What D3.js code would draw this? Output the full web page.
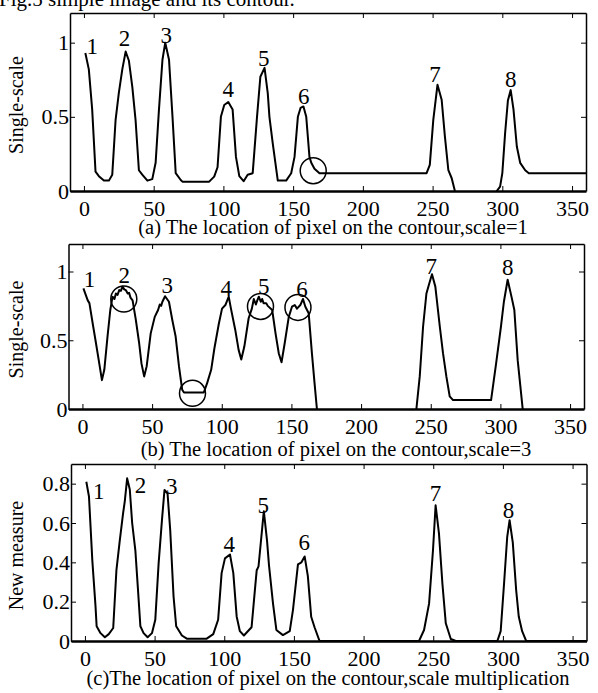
<!DOCTYPE html>
<html>
<head>
<meta charset="utf-8">
<script src="https://cdn.jsdelivr.net/npm/d3@7"></script>
<style>
  body { margin: 0; background: #fff; }
  svg { display: block; font-family: "Liberation Serif", "Times New Roman", serif; }
</style>
</head>
<body>
<div id="chart"></div>
<script>
var w = 598;
var h = 693;

var xTicks = [0, 50, 100, 150, 200, 250, 300, 350];

// (a) scale = 1
var posA = [1, 3.5, 5.9, 8.3, 10.7, 14.3, 17.9, 20.3, 22.7, 25, 27.5, 29.9, 32.2, 34.7, 37, 39.4, 41.8, 45.5, 49, 51.4, 53.8, 56.3, 58.3, 61, 63.5, 65.8, 69.4, 70.6, 89.8, 93.4, 95.8, 98.2, 100.6, 103.5, 106.6, 109, 111.4, 114.5, 117.4, 121, 124.1, 126.5, 129.5, 131.8, 133, 135.4, 139, 145, 148.6, 151, 153.4, 155.3, 157.4, 159.4, 161.7, 163, 165.3, 168.9, 245.7, 248, 250.5, 253.5, 256.5, 258.8, 261.3, 263.7, 266, 270, 292, 296, 298.4, 300, 302, 304, 306, 308, 310.4, 312.8, 316.4, 319, 360];
var valA = [0.93, 0.82, 0.55, 0.13, 0.10, 0.07, 0.07, 0.11, 0.48, 0.66, 0.82, 0.94, 0.88, 0.70, 0.48, 0.14, 0.11, 0.07, 0.08, 0.19, 0.55, 0.885, 1.0, 0.885, 0.50, 0.12, 0.074, 0.063, 0.063, 0.097, 0.16, 0.50, 0.58, 0.60, 0.55, 0.23, 0.10, 0.066, 0.11, 0.12, 0.5, 0.77, 0.83, 0.66, 0.50, 0.32, 0.07, 0.07, 0.12, 0.23, 0.50, 0.56, 0.57, 0.5, 0.23, 0.19, 0.15, 0.12, 0.12, 0.176, 0.48, 0.716, 0.615, 0.37, 0.14, 0.086, 0, -0.2, -0.2, 0, 0.03, 0.12, 0.39, 0.61, 0.68, 0.55, 0.30, 0.19, 0.14, 0.12, 0.12];

// (b) scale = 3
var posB = [0.7, 3.8, 5, 7.4, 9.7, 12.1, 14, 15.7, 18, 20, 21.6, 23, 24, 25.2, 26.4, 27.6, 28.8, 30, 31.1, 32.5, 33.5, 34.5, 36, 38.3, 40.7, 42.4, 44.3, 46.1, 49, 51.9, 54.3, 55.5, 56.5, 57.4, 59.3, 62.1, 64.5, 66.9, 69.3, 71.6, 72.9, 87.1, 89.5, 92.4, 94.7, 97.9, 100.2, 102.6, 105, 106.6, 109.7, 112.1, 114, 116.2, 119.3, 121.6, 123, 124.5, 125.5, 126.6, 128, 129, 130, 131.9, 133, 136.2, 138.6, 140.9, 142.9, 145.2, 148.1, 150.4, 152.4, 154, 156.4, 158.3, 160, 162.4, 164.7, 166.6, 168.3, 171, 237, 239.7, 242.1, 244.5, 246.9, 249.3, 250.9, 253.3, 256.5, 258.8, 261.2, 263.6, 266, 293.3, 296.9, 300.4, 302.5, 305.2, 308.1, 310, 312.4, 316, 319, 360];
var valB = [0.877, 0.79, 0.77, 0.62, 0.48, 0.33, 0.21, 0.285, 0.527, 0.72, 0.817, 0.80, 0.84, 0.83, 0.865, 0.86, 0.89, 0.87, 0.865, 0.84, 0.845, 0.81, 0.79, 0.65, 0.48, 0.33, 0.237, 0.31, 0.55, 0.67, 0.72, 0.76, 0.75, 0.78, 0.82, 0.78, 0.647, 0.527, 0.31, 0.14, 0.12, 0.12, 0.188, 0.285, 0.44, 0.62, 0.73, 0.756, 0.817, 0.73, 0.575, 0.43, 0.36, 0.454, 0.66, 0.73, 0.80, 0.76, 0.79, 0.817, 0.78, 0.80, 0.77, 0.77, 0.75, 0.72, 0.55, 0.406, 0.34, 0.48, 0.67, 0.744, 0.756, 0.73, 0.756, 0.80, 0.744, 0.696, 0.406, 0.188, 0, -0.3, -0.3, 0, 0.237, 0.6, 0.84, 0.925, 0.98, 0.89, 0.6, 0.406, 0.237, 0.092, 0.065, 0.065, 0.33, 0.6, 0.78, 0.94, 0.81, 0.72, 0.355, 0, -0.3, -0.3];

// (c) scale multiplication
var posC = [1, 2.9, 5.3, 7.6, 8.4, 11.2, 14.3, 17.1, 20.3, 22.6, 25, 27.4, 28.6, 30.3, 32.2, 33.9, 36.2, 37.9, 39.8, 42.1, 45, 48.1, 50.5, 52.9, 55.3, 57.1, 59.3, 61.2, 63.6, 65.5, 69.6, 73.1, 87.4, 92.1, 95.6, 98.1, 100.5, 104.1, 106.5, 108.9, 111.2, 114.1, 119.6, 122, 123.3, 124, 124.6, 128.4, 130.7, 132.1, 135, 137.4, 142.1, 147, 149.3, 152.9, 155.4, 157.7, 160, 162.4, 164.8, 168.4, 239.8, 243.4, 247, 249.8, 251.7, 254.1, 256.6, 259, 262.6, 266.2, 296, 298.4, 300.8, 303.1, 304.8, 307.1, 309.5, 311.4, 313.8, 316.7, 360];
var valC = [0.81, 0.735, 0.41, 0.176, 0.075, 0.04, 0.019, 0.035, 0.066, 0.36, 0.51, 0.65, 0.71, 0.827, 0.77, 0.6, 0.46, 0.28, 0.075, 0.04, 0.019, 0.04, 0.108, 0.396, 0.616, 0.768, 0.75, 0.565, 0.227, 0.075, 0.028, 0.012, 0.012, 0.035, 0.108, 0.345, 0.42, 0.44, 0.345, 0.125, 0.05, 0.028, 0.07, 0.26, 0.36, 0.37, 0.38, 0.66, 0.51, 0.386, 0.19, 0.056, 0.03, 0.05, 0.157, 0.39, 0.40, 0.43, 0.33, 0.123, 0.07, 0, 0, 0.056, 0.19, 0.46, 0.69, 0.547, 0.29, 0.09, 0.01, 0, 0, 0.05, 0.29, 0.53, 0.614, 0.5, 0.26, 0.123, 0.05, 0, 0];

// peak numbers (anchor at bottom-centre, data units)
var peakNames = ["1", "2", "3", "4", "5", "6", "7", "8"];
var peakXA = [5.9, 29.1, 59.1, 103.5, 128.9, 157.7, 251.7, 306.1];
var peakYA = [0.926, 0.975, 0.998, 0.633, 0.845, 0.588, 0.738, 0.70];
var peakXB = [5.1, 30, 60.9, 103.3, 130.2, 157.6, 250.4, 305.2];
var peakYB = [0.884, 0.913, 0.845, 0.82, 0.833, 0.817, 0.98, 0.978];
var peakXC = [10, 39.8, 62.4, 103.6, 127.9, 157.5, 251.7, 304.1];
var peakYC = [0.722, 0.755, 0.75, 0.455, 0.653, 0.462, 0.712, 0.623];

// marked regions (circle centres, data units)
var ringXA = [164.4];
var ringYA = [0.137];
var ringXB = [29.7, 79, 127.8, 154.7];
var ringYB = [0.80, 0.114, 0.746, 0.739];

var title = "Fig.5 simple image and its contour.";
var captions = [
  "(a) The location of pixel on the contour,scale=1",
  "(b) The location of pixel on the contour,scale=3",
  "(c)The location of pixel on the contour,scale multiplication"
];
var yTitles = ["Single-scale", "Single-scale", "New measure"];

var panels = [
  { xs: posA, ys: valA, px: peakXA, py: peakYA, rx: ringXA, ry: ringYA,
    left: 70, right: 586, top: 13, bottom: 191, yMax: 1.2, yTicks: [0, 0.5, 1],
    capX: 333, capY: 234 },
  { xs: posB, ys: valB, px: peakXB, py: peakYB, rx: ringXB, ry: ringYB,
    left: 68.5, right: 584, top: 244, bottom: 409, yMax: 1.2, yTicks: [0, 0.5, 1],
    capX: 336, capY: 456 },
  { xs: posC, ys: valC, px: peakXC, py: peakYC, rx: [], ry: [],
    left: 71, right: 586.5, top: 464, bottom: 641, yMax: 0.9, yTicks: [0, 0.2, 0.4, 0.6, 0.8],
    capX: 328, capY: 685 }
];

var svg = d3.select("#chart").append("svg")
  .attr("width", w)
  .attr("height", h);

svg.append("text")
  .attr("x", -1)
  .attr("y", 6)
  .style("font-size", "21px")
  .text(title);

panels.forEach(function (p, k) {
  var x = d3.scaleLinear().domain([-10, 360]).range([p.left, p.right]);
  var y = d3.scaleLinear().domain([0, p.yMax]).range([p.bottom, p.top]);

  var g = svg.append("g");

  g.append("clipPath").attr("id", "clip" + k)
    .append("rect")
    .attr("x", p.left).attr("y", p.top)
    .attr("width", p.right - p.left).attr("height", p.bottom - p.top);

  var pts = p.xs.map(function (d, i) { return [d, p.ys[i]]; });
  var line = d3.line()
    .x(function (d) { return x(d[0]); })
    .y(function (d) { return y(d[1]); });

  g.append("path")
    .datum(pts)
    .attr("clip-path", "url(#clip" + k + ")")
    .attr("d", line)
    .attr("fill", "none")
    .attr("stroke", "#000")
    .attr("stroke-width", 2)
    .attr("stroke-linejoin", "round");

  g.selectAll("circle.ring")
    .data(p.rx)
    .join("circle")
    .attr("class", "ring")
    .attr("cx", function (d) { return x(d); })
    .attr("cy", function (d, i) { return y(p.ry[i]); })
    .attr("r", 13)
    .attr("fill", "none")
    .attr("stroke", "#000")
    .attr("stroke-width", 1.5);

  g.selectAll("text.peak")
    .data(peakNames)
    .join("text")
    .attr("class", "peak")
    .attr("x", function (d, i) { return x(p.px[i]); })
    .attr("y", function (d, i) { return y(p.py[i]); })
    .attr("text-anchor", "middle")
    .style("font-size", "23px")
    .text(function (d) { return d; });

  // box with inward ticks, MATLAB style
  var bottomAxis = g.append("g")
    .attr("transform", "translate(0," + p.bottom + ")")
    .call(d3.axisBottom(x).tickValues(xTicks).tickSizeInner(-5).tickSizeOuter(0).tickPadding(9));
  bottomAxis.select(".domain").attr("stroke-width", 2.5);

  g.append("g")
    .attr("transform", "translate(0," + p.top + ")")
    .call(d3.axisTop(x).tickValues(xTicks).tickSizeInner(-5).tickSizeOuter(0).tickFormat(""));

  g.append("g")
    .attr("transform", "translate(" + p.left + ",0)")
    .call(d3.axisLeft(y).tickValues(p.yTicks).tickSizeInner(-5).tickSizeOuter(0).tickPadding(1)
      .tickFormat(function (d) { return String(d); }));

  g.append("g")
    .attr("transform", "translate(" + p.right + ",0)")
    .call(d3.axisRight(y).tickValues(p.yTicks).tickSizeInner(-5).tickSizeOuter(0).tickFormat(""));

  g.selectAll(".tick text")
    .attr("fill", "#000")
    .style("font-family", "'Liberation Serif', serif")
    .style("font-size", "22px");
  g.selectAll(".domain, .tick line")
    .attr("stroke", "#000");
  g.selectAll(".domain").filter(function () { return d3.select(this).attr("stroke-width") == null; })
    .attr("stroke-width", 1.5);

  g.append("text")
    .attr("transform", "translate(23," + ((p.top + p.bottom) / 2 + 3) + ") rotate(-90)")
    .attr("text-anchor", "middle")
    .style("font-size", "20px")
    .text(yTitles[k]);

  g.append("text")
    .attr("x", p.capX)
    .attr("y", p.capY)
    .attr("text-anchor", "middle")
    .style("font-size", "20.5px")
    .text(captions[k]);
});
</script>
</body>
</html>
